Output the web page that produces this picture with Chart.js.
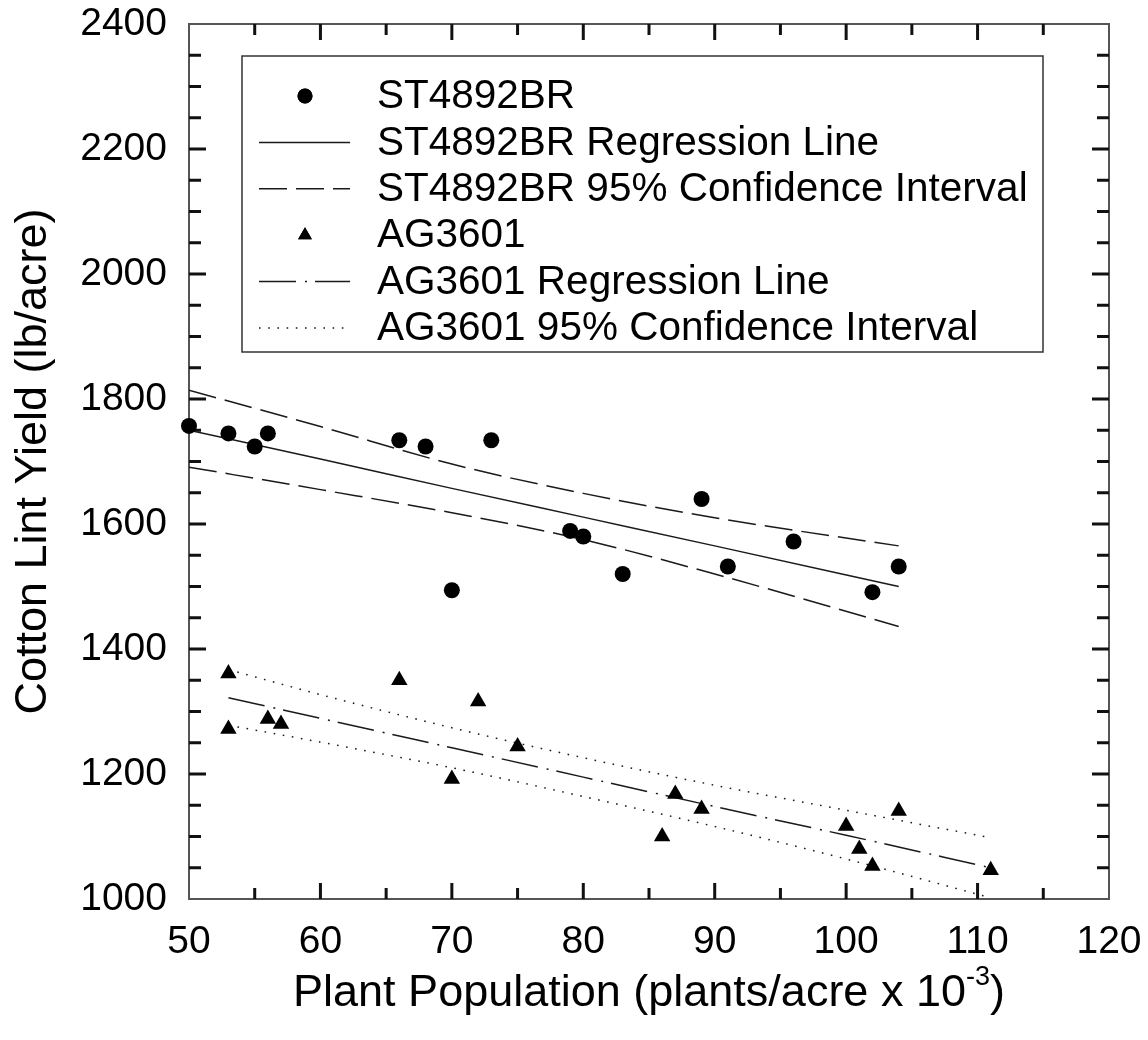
<!DOCTYPE html>
<html>
<head>
<meta charset="utf-8">
<script src="https://cdn.jsdelivr.net/npm/chart.js@4.4.1/dist/chart.umd.min.js"></script>
<style>
  html, body { margin: 0; padding: 0; background: #fff; }
  #wrap { width: 1148px; height: 1040px; }
</style>
</head>
<body>
<div id="wrap"><canvas id="chart" width="1148" height="1040"></canvas></div>
<script>
// ST4892BR observations
const stPop = [50, 53, 55, 56, 66, 68, 70, 73, 79, 80, 83, 89, 91, 96, 102, 104];
const stYield = [1757, 1745, 1724, 1745, 1734, 1724, 1494, 1734, 1589, 1580, 1520, 1640, 1532, 1572, 1491, 1532];

// AG3601 observations
const agPop = [53, 53, 56, 57, 66, 70, 72, 75, 86, 87, 89, 100, 101, 102, 104, 111];
const agYield = [1361, 1272, 1288, 1280, 1350, 1192, 1316, 1244, 1100, 1168, 1144, 1117, 1080, 1053, 1141, 1046];

// regression lines and 95% bands
const stLineX = [50, 60, 70, 80, 90, 104];
const stFit = [1750, 1704, 1657, 1611, 1565, 1500];
const stUpper = [1814, 1756, 1696, 1649, 1610, 1565];
const stLower = [1691, 1655, 1618, 1575, 1520, 1436];

const agLineX = [53, 60, 70, 80, 90, 100, 111];
const agFit = [1322, 1289, 1242, 1195, 1148, 1102, 1050];
const agUpper = [1367, 1327, 1274, 1226, 1182, 1142, 1098];
const agLower = [1278, 1251, 1210, 1164, 1116, 1064, 1002];

const xTicks = [50, 60, 70, 80, 90, 100, 110, 120];
const yTicks = [1000, 1200, 1400, 1600, 1800, 2000, 2200, 2400];

const FONT = "'Liberation Sans', Arial, sans-serif";
const INK = "#1a1a1a";

function pts(xs, ys) {
  return xs.map((x, i) => ({ x: x, y: ys[i] }));
}

function lineSet(label, xs, ys, dash, legend) {
  return {
    label: label,
    data: pts(xs, ys),
    showLine: true,
    borderColor: INK,
    borderWidth: 1.5,
    borderDash: dash,
    pointRadius: 0,
    fill: false,
    cubicInterpolationMode: "monotone",
    order: 2,
    inLegend: legend,
  };
}

const datasets = [
  {
    label: "ST4892BR",
    data: pts(stPop, stYield),
    pointStyle: "circle",
    pointRadius: 8,
    backgroundColor: "#000",
    borderColor: "#000",
    borderWidth: 0,
    showLine: false,
    clip: false,
    order: 0,
    inLegend: true,
  },
  lineSet("ST4892BR Regression Line", stLineX, stFit, [], true),
  lineSet("ST4892BR 95% Confidence Interval", stLineX, stUpper, [28, 9], true),
  lineSet("ST4892BR 95% Confidence Interval", stLineX, stLower, [28, 9], false),
  {
    label: "AG3601",
    data: pts(agPop, agYield),
    pointStyle: "triangle",
    pointRadius: 9.5,
    backgroundColor: "#000",
    borderColor: "#000",
    borderWidth: 0,
    showLine: false,
    clip: false,
    order: 0,
    inLegend: true,
  },
  lineSet("AG3601 Regression Line", agLineX, agFit, [37, 9, 2, 8], true),
  lineSet("AG3601 95% Confidence Interval", agLineX, agUpper, [1.6, 7.6], true),
  lineSet("AG3601 95% Confidence Interval", agLineX, agLower, [1.6, 7.6], false),
];

// frame around the plot with inward ticks on all four sides
const frameTicks = {
  id: "frameTicks",
  beforeDatasetsDraw(chart) {
    const { ctx, chartArea: a, scales } = chart;
    ctx.save();
    ctx.strokeStyle = "#555";
    ctx.lineWidth = 2;
    ctx.strokeRect(a.left, a.top, a.right - a.left, a.bottom - a.top);
    ctx.strokeStyle = "#111";
    ctx.lineWidth = 3;
    ctx.beginPath();
    for (let v = 1050; v < 2400; v += 50) {
      const y = scales.y.getPixelForValue(v);
      const len = v % 200 === 0 ? 17 : 12;
      ctx.moveTo(a.left, y); ctx.lineTo(a.left + len, y);
      ctx.moveTo(a.right, y); ctx.lineTo(a.right - len, y);
    }
    for (let v = 55; v < 120; v += 5) {
      const x = scales.x.getPixelForValue(v);
      const len = v % 10 === 0 ? 16 : 11;
      ctx.moveTo(x, a.bottom); ctx.lineTo(x, a.bottom - len);
      ctx.moveTo(x, a.top); ctx.lineTo(x, a.top + len);
    }
    ctx.stroke();
    ctx.restore();
  },
};

// boxed legend inside the plot
const boxLegend = {
  id: "boxLegend",
  afterDraw(chart) {
    const ctx = chart.ctx;
    const entries = chart.data.datasets.filter((d) => d.inLegend);
    const left = 242, top = 56, right = 1043, rowH = 46.4, firstY = 96;
    const bottom = firstY + rowH * (entries.length - 1) + 24;
    ctx.save();
    ctx.fillStyle = "#fff";
    ctx.fillRect(left, top, right - left, bottom - top);
    ctx.strokeStyle = "#333";
    ctx.lineWidth = 1.5;
    ctx.strokeRect(left, top, right - left, bottom - top);
    entries.forEach((d, i) => {
      const y = firstY + i * rowH;
      if (d.showLine) {
        ctx.strokeStyle = d.borderColor;
        ctx.lineWidth = d.borderWidth;
        ctx.setLineDash(d.borderDash);
        ctx.beginPath();
        ctx.moveTo(259, y);
        ctx.lineTo(350, y);
        ctx.stroke();
        ctx.setLineDash([]);
      } else {
        ctx.fillStyle = "#000";
        Chart.helpers.drawPoint(ctx, {
          pointStyle: d.pointStyle,
          radius: d.pointStyle === "circle" ? 7.5 : 8,
          borderWidth: 0,
          rotation: 0,
        }, 305, y);
        ctx.fill();
      }
      ctx.fillStyle = "#000";
      ctx.font = "40.5px " + FONT;
      ctx.textBaseline = "middle";
      ctx.textAlign = "left";
      ctx.fillText(d.label, 377, y + 1);
    });
    ctx.restore();
  },
};

// x axis title with a raised exponent
const xTitle = {
  id: "xTitle",
  afterDraw(chart) {
    const ctx = chart.ctx;
    const a = chart.chartArea;
    const main = "Plant Population (plants/acre x 10";
    const sup = "-3";
    const tail = ")";
    ctx.save();
    ctx.fillStyle = "#000";
    ctx.textBaseline = "alphabetic";
    ctx.font = "45px " + FONT;
    const wMain = ctx.measureText(main).width;
    const wTail = ctx.measureText(tail).width;
    ctx.font = "27px " + FONT;
    const wSup = ctx.measureText(sup).width;
    let x = (a.left + a.right) / 2 - (wMain + wSup + wTail) / 2;
    const base = 1006;
    ctx.font = "45px " + FONT;
    ctx.fillText(main, x, base);
    x += wMain;
    ctx.font = "27px " + FONT;
    ctx.fillText(sup, x, base - 21);
    x += wSup;
    ctx.font = "45px " + FONT;
    ctx.fillText(tail, x, base);
    ctx.restore();
  },
};

new Chart(document.getElementById("chart"), {
  type: "scatter",
  data: { datasets: datasets },
  options: {
    responsive: false,
    animation: false,
    layout: { padding: { top: 24, right: 39, left: 0, bottom: 0 } },
    plugins: { legend: { display: false }, tooltip: { enabled: false } },
    scales: {
      x: {
        type: "linear",
        min: 50,
        max: 120,
        afterBuildTicks: (s) => { s.ticks = xTicks.map((v) => ({ value: v })); },
        afterFit: (s) => { s.height = 141; s.paddingLeft = 0; s.paddingRight = 0; },
        grid: { display: false, drawTicks: false },
        border: { display: false },
        ticks: {
          color: "#000",
          padding: 20,
          maxRotation: 0,
          font: { family: FONT, size: 39 },
          callback: (v) => String(v),
        },
      },
      y: {
        type: "linear",
        min: 1000,
        max: 2400,
        afterBuildTicks: (s) => { s.ticks = yTicks.map((v) => ({ value: v })); },
        afterFit: (s) => { s.width = 189; s.paddingTop = 0; s.paddingBottom = 0; },
        grid: { display: false, drawTicks: false },
        border: { display: false },
        ticks: {
          color: "#000",
          padding: 22,
          font: { family: FONT, size: 39 },
          callback: (v) => String(v),
        },
        title: {
          display: true,
          text: "Cotton Lint Yield (lb/acre)",
          color: "#000",
          padding: { top: 7, bottom: 0 },
          font: { family: FONT, size: 45 },
        },
      },
    },
  },
  plugins: [frameTicks, boxLegend, xTitle],
});
</script>
</body>
</html>
